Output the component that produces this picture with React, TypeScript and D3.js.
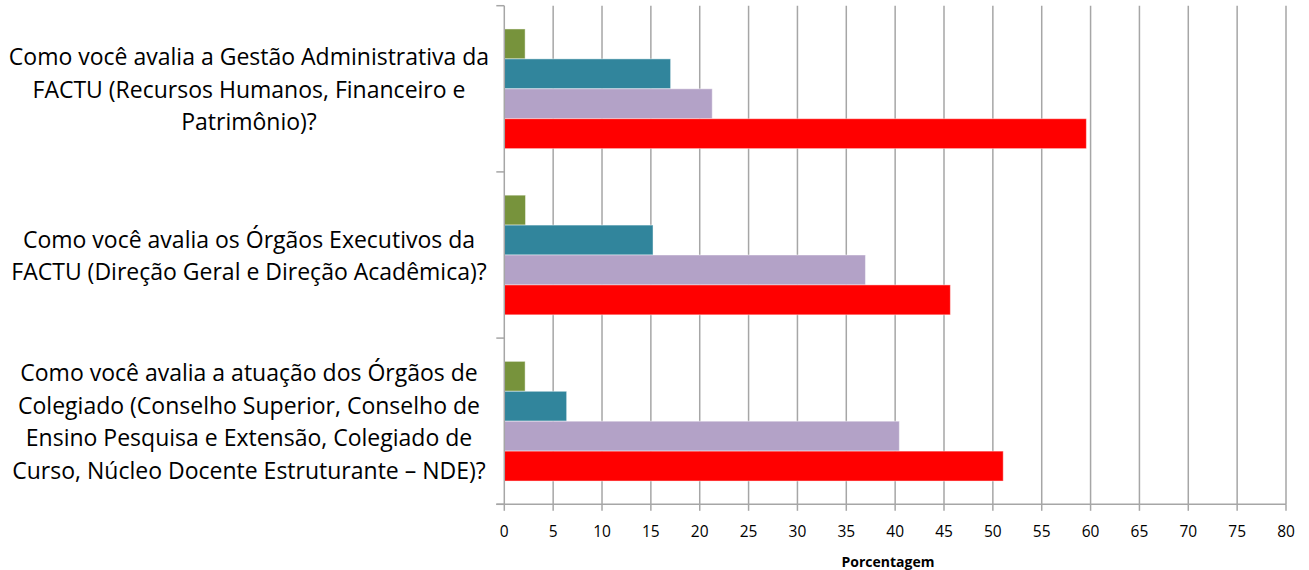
import React from "react";
import * as d3 from "d3";

const categories = [
  ["Como você avalia a Gestão Administrativa da", "FACTU (Recursos Humanos, Financeiro e", "Patrimônio)?"],
  ["Como você avalia os Órgãos Executivos da", "FACTU (Direção Geral e Direção Acadêmica)?"],
  ["Como você avalia a atuação dos Órgãos de", "Colegiado (Conselho Superior, Conselho de", "Ensino Pesquisa e Extensão, Colegiado de", "Curso, Núcleo Docente Estruturante – NDE)?"],
];
const seriesNames = ["s1", "s2", "s3", "s4"];
const seriesColors = ["#77933C", "#31859C", "#B3A2C7", "#FF0000"];
const s1 = [2.13, 2.17, 2.13];
const s2 = [17.02, 15.22, 6.38];
const s3 = [21.28, 36.96, 40.43];
const s4 = [59.57, 45.65, 51.06];
const seriesValues = [s1, s2, s3, s4];
const xTicks = [0, 5, 10, 15, 20, 25, 30, 35, 40, 45, 50, 55, 60, 65, 70, 75, 80];
const xTitle = "Porcentagem";

const W = 1309, H = 570;
const left = 504.3, right = 1286, top = 5.7, bottom = 504.3;
const grid = "#A6A6A6";
const font = "'Open Sans', sans-serif";

export default function App() {
  const x = d3.scaleLinear().domain([0, 80]).range([left, right]);
  const idx = categories.map((_, i) => i);
  const y = d3.scaleBand<number>().domain(idx).range([top, bottom]).paddingInner(0.28).paddingOuter(0.14);
  const ys = d3.scaleBand<number>().domain(seriesNames.map((_, i) => i)).range([0, y.bandwidth()]);
  const step = y.step();
  const lineH = 32.5;
  return (
    <svg width={W} height={H} style={{ position: "absolute", left: 0, top: 0, background: "#fff" }}>
      {xTicks.filter((t) => t > 0).map((t) => (
        <line key={"g" + t} x1={x(t)} x2={x(t)} y1={top} y2={bottom} stroke={grid} strokeWidth={1.5} />
      ))}
      {idx.map((ci) =>
        seriesValues.map((vals, si) => (
          <rect key={ci + "-" + si} x={x(0)} y={(y(ci) as number) + (ys(si) as number)} width={x(vals[ci]) - x(0)}
            height={ys.bandwidth()} fill={seriesColors[si]} stroke="rgba(255,255,255,0.45)" strokeWidth={1} />
        ))
      )}
      <line x1={left} x2={left} y1={top} y2={bottom} stroke={grid} strokeWidth={1.5} />
      <line x1={left - 8} x2={right} y1={bottom} y2={bottom} stroke={grid} strokeWidth={1.5} />
      {[0, 1, 2, 3].map((k) => (
        <line key={"ct" + k} x1={left - 8} x2={left} y1={top + k * step} y2={top + k * step} stroke={grid} strokeWidth={1.5} />
      ))}
      {xTicks.map((t) => (
        <g key={"t" + t}>
          <line x1={x(t)} x2={x(t)} y1={bottom} y2={bottom + 6.5} stroke={grid} strokeWidth={1.5} />
          <text x={x(t)} y={531} textAnchor="middle" dominantBaseline="central" fontFamily={font} fontSize={15.5} fill="#000">{t}</text>
        </g>
      ))}
      <text x={888} y={561} textAnchor="middle" dominantBaseline="central" fontFamily={font} fontSize={14} fontWeight="bold" fill="#000">{xTitle}</text>
      {categories.map((lines, ci) => {
        const cy = (y(ci) as number) + y.bandwidth() / 2;
        const n = lines.length;
        return lines.map((ln, li) => (
          <text key={ci + "l" + li} x={249} y={cy + (li - (n - 1) / 2) * lineH} textAnchor="middle" dominantBaseline="central"
            fontFamily={font} fontSize={23} fill="#000">{ln}</text>
        ));
      })}
    </svg>
  );
}
